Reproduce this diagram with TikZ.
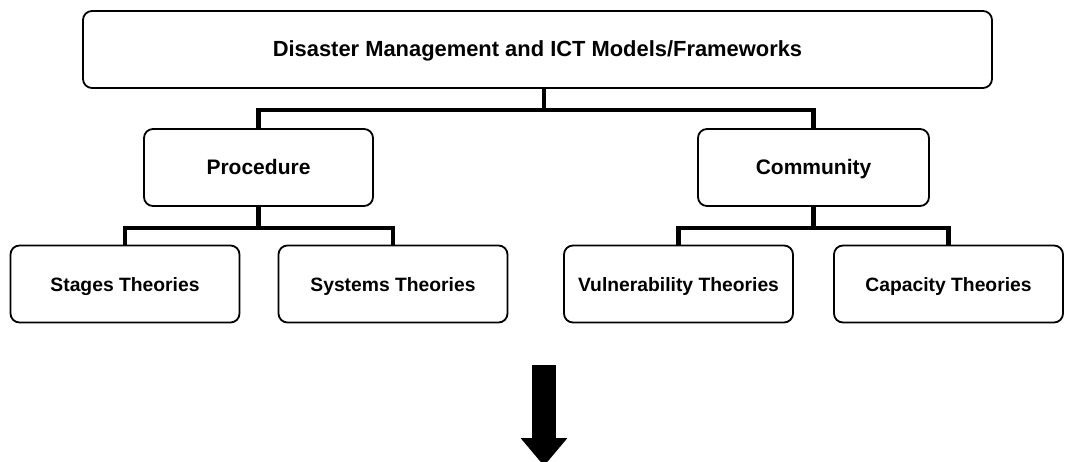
\documentclass[tikz,border=0pt]{standalone}
\usepackage{fontspec}
\setmainfont{Liberation Sans}
\usetikzlibrary{arrows.meta}
\begin{document}
\begin{tikzpicture}[x=1pt,y=-1pt]
	\clip (0,0) rectangle (1065,461);
	% branch lines first, boxes on top
	\coordinate (mainbus) at (544,110);
	\coordinate (subbus) at (0,228);
	\coordinate (arrowtop) at (544,365);
	\coordinate (arrowtip) at (544,466);
	\begin{scope}[every node/.style={draw,fill=white,line width=1.8pt,rounded corners=9pt,minimum height=77pt,minimum width=229pt,text height=14.5pt,text depth=0pt,font=\bfseries\fontsize{19.3}{23}\selectfont}]
		\node[minimum width=909pt,font=\bfseries\fontsize{21.9}{26}\selectfont] (top) at (537.5,49.5) {Disaster Management and ICT Models/Frameworks};
		\node[font=\bfseries\fontsize{21}{25}\selectfont] (proc) at (258.5,167.5) {Procedure};
		\node[font=\bfseries\fontsize{21}{25}\selectfont,minimum width=231pt] (comm) at (813.5,167.5) {Community};
		\node (stages) at (125,284) {Stages Theories};
		\node (systems) at (393,284) {Systems Theories};
		\node (vuln) at (678.5,284) {Vulnerability Theories};
		\node (capa) at (948.5,284) {Capacity Theories};
	\end{scope}
	\begin{scope}[line width=4.5pt]
		\draw (top.south -| mainbus) -- (mainbus);
		\draw (proc.north) -- (proc.north |- mainbus) -- (comm.north |- mainbus) -- (comm.north);
		\draw (proc.south) -- (proc.south |- subbus);
		\draw (stages.north) -- (stages.north |- subbus) -- (systems.north |- subbus) -- (systems.north);
		\draw (comm.south) -- (comm.south |- subbus);
		\draw (vuln.north) -- (vuln.north |- subbus) -- (capa.north |- subbus) -- (capa.north);
	\end{scope}
	\draw[line width=24pt,-{Triangle[width=45pt,length=28pt]}] (arrowtop) -- (arrowtip);
\end{tikzpicture}
\end{document}
